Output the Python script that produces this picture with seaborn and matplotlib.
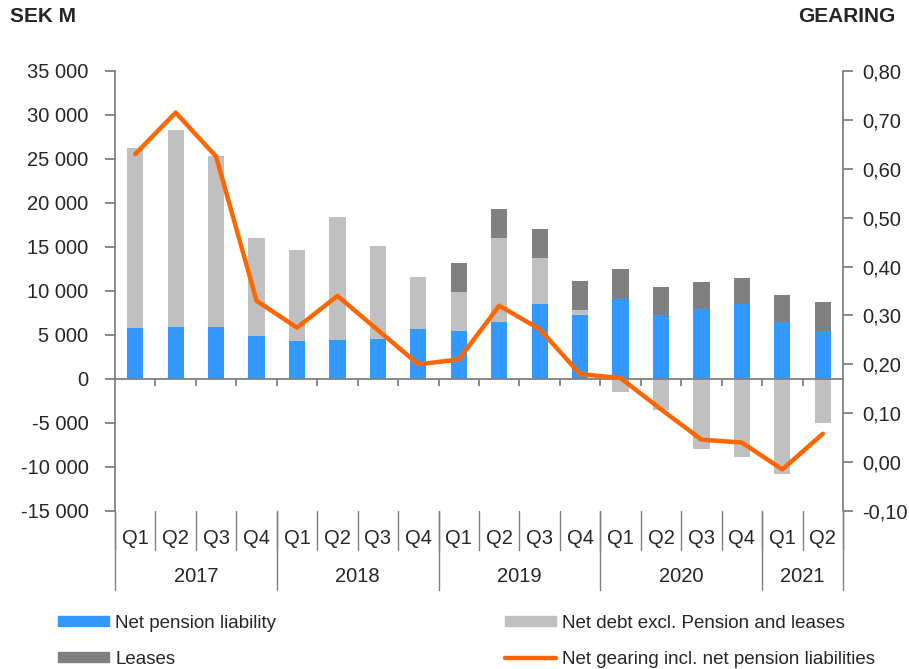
import matplotlib

matplotlib.use("Agg")

import matplotlib.pyplot as plt
import matplotlib.transforms as mtransforms
import numpy as np
import seaborn as sns
from matplotlib.lines import Line2D
from matplotlib.patches import Patch
from matplotlib.ticker import FuncFormatter

quarters = ["Q1", "Q2", "Q3", "Q4"] * 4 + ["Q1", "Q2"]
years = ["2017", "2018", "2019", "2020", "2021"]
year_lengths = [4, 4, 4, 4, 2]

# SEK M
pension = [5800, 5950, 5950, 4900, 4350, 4450, 4600, 5700, 5500,
           6500, 8550, 7250, 9100, 7250, 7900, 8500, 6500, 5450]
net_debt = [20450, 22300, 19400, 11100, 10300, 13950, 10500, 5850, 4400,
            9500, 5250, 550, -1450, -3500, -8000, -8850, -10750, -4950]
leases = [0, 0, 0, 0, 0, 0, 0, 0, 3300,
          3300, 3300, 3300, 3400, 3200, 3100, 3000, 3050, 3350]
# gearing ratio (right axis)
gearing = [0.63, 0.715, 0.625, 0.33, 0.275, 0.34, 0.27, 0.20, 0.21,
           0.32, 0.272, 0.18, 0.172, 0.108, 0.046, 0.04, -0.015, 0.058]

BLUE = "#3399FF"
LIGHT = "#C0C0C0"
DARK = "#808080"
ORANGE = "#FF6600"
AXIS = "#808080"

sns.set_style("white")
plt.rcParams["font.family"] = ["Liberation Sans", "DejaVu Sans"]

W, H = 909, 669
fig = plt.figure(figsize=(W / 100, H / 100), dpi=100)
ax = fig.add_axes([115 / W, 1 - 511 / H, (843 - 115) / W, (511 - 71) / H])

x = np.arange(len(quarters))
pension_arr = np.array(pension, dtype=float)
debt_arr = np.array(net_debt, dtype=float)
lease_arr = np.array(leases, dtype=float)

debt_bottom = np.where(debt_arr > 0, pension_arr, 0)
lease_bottom = pension_arr + np.clip(debt_arr, 0, None)

bar_kw = dict(width=0.4, saturation=1, ax=ax, linewidth=0)
sns.barplot(x=x, y=pension_arr, color=BLUE, **bar_kw)
sns.barplot(x=x, y=debt_arr, bottom=debt_bottom, color=LIGHT, **bar_kw)
sns.barplot(x=x, y=lease_arr, bottom=lease_bottom, color=DARK, **bar_kw)

ax.set_xlim(-0.5, len(x) - 0.5)
ax.set_ylim(-15000, 35000)
ax.set_yticks(np.arange(-15000, 35001, 5000))
ax.yaxis.set_major_formatter(FuncFormatter(lambda v, p: f"{int(v):,}".replace(",", " ")))
ax.set_xlabel("")
ax.set_ylabel("")
ax.set_xticks([])

for side in ["top", "bottom", "right"]:
    ax.spines[side].set_visible(False)
ax.spines["left"].set_color(AXIS)
ax.spines["left"].set_linewidth(1.3)
ax.tick_params(axis="y", direction="out", length=7, width=1.3, color=AXIS,
               labelsize=14.5, pad=12, left=True)

# zero line with small ticks at category boundaries
ax.axhline(0, color=AXIS, lw=1.3, zorder=3)
ax.vlines(x[:-1] + 0.5, -800, 0, color=AXIS, lw=1.3, zorder=3)

# bottom category / year separators
trans = mtransforms.blended_transform_factory(ax.transData, ax.transAxes)
for b in np.arange(-0.5, len(x), 1.0):
    ax.plot([b, b], [0, -0.088], color=AXIS, lw=1.0, transform=trans, clip_on=False)
start = 0
year_edges = [-0.5]
for yr, n in zip(years, year_lengths):
    ax.text(start + (n - 1) / 2, -0.148, yr, transform=trans, ha="center",
            va="center", fontsize=14.5)
    start += n
    year_edges.append(start - 0.5)
for b in year_edges:
    ax.plot([b, b], [0, -0.18], color=AXIS, lw=1.0, transform=trans, clip_on=False)
for i, q in enumerate(quarters):
    ax.text(i, -0.063, q, transform=trans, ha="center", va="center", fontsize=14.5)

# gearing line on right axis
ax2 = ax.twinx()
sns.lineplot(x=x, y=gearing, ax=ax2, color=ORANGE, lw=3.2)
ax2.set_ylim(-0.10, 0.80)
ax2.set_yticks(np.arange(-0.10, 0.801, 0.10))
ax2.yaxis.set_major_formatter(FuncFormatter(lambda v, p: f"{v:.2f}".replace(".", ",")))
ax2.set_ylabel("")
for side in ["top", "bottom", "left"]:
    ax2.spines[side].set_visible(False)
ax2.spines["right"].set_color(AXIS)
ax2.spines["right"].set_linewidth(1.3)
ax2.tick_params(axis="y", direction="out", length=7, width=1.3, color=AXIS,
                labelsize=14.5, pad=7, right=True)
ax2.set_xlim(-0.5, len(x) - 0.5)

fig.text(10 / W, 1 - 16 / H, "SEK M", fontsize=15, fontweight="bold", va="center", ha="left")
fig.text(895 / W, 1 - 16 / H, "GEARING", fontsize=15, fontweight="bold", va="center", ha="right")

handles = [
    Patch(color=BLUE, label="Net pension liability"),
    Patch(color=DARK, label="Leases"),
    Patch(color=LIGHT, label="Net debt excl. Pension and leases"),
    Line2D([], [], color=ORANGE, lw=3.2, label="Net gearing incl. net pension liabilities"),
]
fig.legend(handles=handles, ncol=2, loc="upper left",
           bbox_to_anchor=(58 / W, 1 - 615 / H), frameon=False, fontsize=13.5,
           handlelength=2.7, handleheight=0.45, handletextpad=0.35,
           columnspacing=12.2, labelspacing=1.0, borderpad=0, borderaxespad=0)

fig.savefig("out.png", dpi=100)
